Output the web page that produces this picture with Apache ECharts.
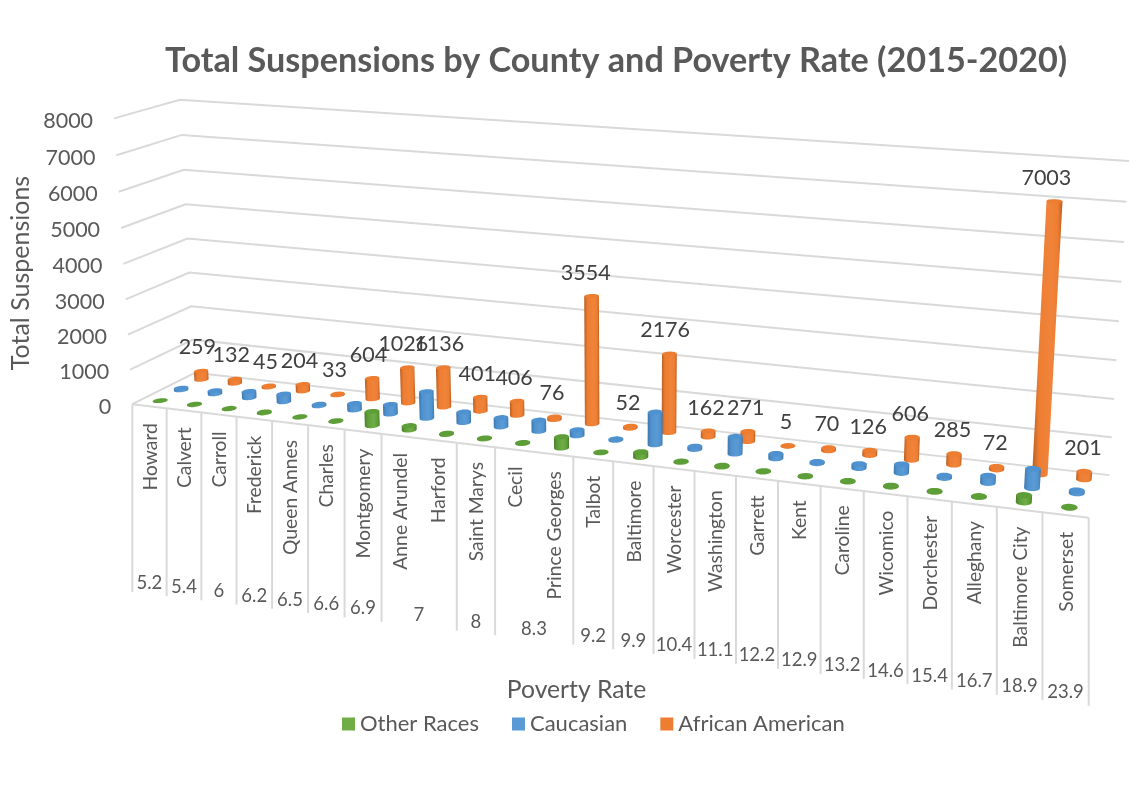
<!DOCTYPE html>
<html><head><meta charset="utf-8">
<style>html,body{margin:0;padding:0;background:#fff}#c{width:1146px;height:795px}</style>
<script src="https://cdn.jsdelivr.net/npm/echarts@6/dist/echarts.min.js"></script>
</head><body><div id="c"></div>
<script>
const counties = ['Howard','Calvert','Carroll','Frederick','Queen Annes','Charles','Montgomery','Anne Arundel','Harford','Saint Marys','Cecil','Prince Georges','Talbot','Baltimore','Worcester','Washington','Garrett','Kent','Caroline','Wicomico','Dorchester','Alleghany','Baltimore City','Somerset'];
const povertyRate = [5.2,5.4,6,6.2,6.5,6.6,6.9,7,7,8,8.3,8.3,9.2,9.9,10.4,11.1,12.2,12.9,13.2,14.6,15.4,16.7,18.9,23.9];
const otherRaces = [5,20,15,30,10,20,400,120,30,20,20,300,10,140,15,30,15,15,15,25,20,20,180,15];
const caucasian = [60,100,190,230,50,190,280,760,300,260,310,160,30,890,75,470,130,40,110,230,60,190,500,70];
const africanAmerican = [259,132,45,204,33,604,1026,1136,401,406,76,3554,52,2176,162,271,5,70,126,606,285,72,7003,201];
const valueTicks = [0,1000,2000,3000,4000,5000,6000,7000,8000];
const FONT = 'Lato';
const AXIS_MAX = 8000, GRID_COL = '#D9D9D9';

// Camera of the 3D view: (along categories, depth, height) -> screen, solved by least squares.
const cameraRefs = [
 [0,0,0,132.5,404],[1,0,0,1089,517],[0,1,0,195,373],[1,1,0,1109,476],
 [0,0,1,114,119],[0,1,1,180,99.5],[1,1,1,1129,161],
 [0,0,.5,123,264],[0,1,.5,187.5,238],[1,1,.5,1119,321]
];
function solveCamera(refs){
  const n=11, A=Array.from({length:n},()=>new Array(n+1).fill(0));
  const add=(r,b)=>{for(let i=0;i<n;i++){for(let j=0;j<n;j++)A[i][j]+=r[i]*r[j];A[i][n]+=r[i]*b;}};
  refs.forEach(([u,w,h,x,y])=>{
    add([u,w,h,1,0,0,0,0,-x*u,-x*w,-x*h],x);
    add([0,0,0,0,u,w,h,1,-y*u,-y*w,-y*h],y);
  });
  for(let c=0;c<n;c++){
    let p=c;for(let r=c+1;r<n;r++)if(Math.abs(A[r][c])>Math.abs(A[p][c]))p=r;
    [A[c],A[p]]=[A[p],A[c]];
    for(let r=0;r<n;r++){if(r===c)continue;const f=A[r][c]/A[c][c];for(let k=c;k<=n;k++)A[r][k]-=f*A[c][k];}
  }
  return A.map((row,i)=>row[n]/row[i]);
}
const P = solveCamera(cameraRefs);
function project(u,w,h){
  const d=P[8]*u+P[9]*w+P[10]*h+1;
  return [(P[0]*u+P[1]*w+P[2]*h+P[3])/d,(P[4]*u+P[5]*w+P[6]*h+P[7])/d];
}
// Read axis position back out of the cartesian scales.
function uh(params,api,cat,val){
  const c=api.coord([cat,val]), s=params.coordSys;
  return [(c[0]-s.x)/s.width,(s.y+s.height-c[1])/s.height];
}
const R_U=0.0072, R_W=0.07, STEPS=32;
function cylinder(color,dark,light,depth){
  return function(params,api){
    const [u,h]=uh(params,api,api.value(0),api.value(1));
    const base=[],top=[];
    for(let i=0;i<STEPS;i++){
      const t=i/STEPS*2*Math.PI,du=R_U*Math.cos(t),dw=R_W*Math.sin(t);
      base.push(project(u+du,depth+dw,0));
      top.push(project(u+du,depth+dw,h));
    }
    let l=0,r=0;
    base.forEach((p,i)=>{if(p[0]<base[l][0])l=i;if(p[0]>base[r][0])r=i;});
    let lt=0,rt=0;
    top.forEach((p,i)=>{if(p[0]<top[lt][0])lt=i;if(p[0]>top[rt][0])rt=i;});
    const arc=[];
    for(let i=r,c=0;c<STEPS;c++,i=(i+1)%STEPS){arc.push(base[i]);if(i===l)break;}
    const arc2=[];
    for(let i=r,c=0;c<STEPS;c++,i=(i-1+STEPS)%STEPS){arc2.push(base[i]);if(i===l)break;}
    const avg=a=>a.reduce((m,p)=>m+p[1],0)/a.length;
    const lower=avg(arc)>avg(arc2)?arc:arc2;
    const body=lower.concat([top[lt],top[rt]]);
    const fill={type:'linear',x:0,y:0,x2:1,y2:0,colorStops:[
      {offset:0,color:dark},{offset:.22,color:color},{offset:.6,color:light},{offset:.85,color:color},{offset:1,color:dark}]};
    return {type:'group',children:[
      {type:'polygon',shape:{points:body},style:{fill}},
      {type:'polygon',shape:{points:top},style:{fill:color}}
    ]};
  };
}
function line(pts,width){
  return {type:'polyline',shape:{points:pts},style:{stroke:GRID_COL,lineWidth:width||2,fill:null}};
}
const bandDrop=188, labelDrop=17, rateDrop=177;
const groups=[];
povertyRate.forEach((r,i)=>{
  const g=groups[groups.length-1];
  if(g&&g.rate===r)g.end=i+1;else groups.push({rate:r,start:i,end:i+1});
});
const catData=v=>v.map((x,i)=>[i,x]);
const option={
  animation:false,
  backgroundColor:'#fff',
  title:{text:'Total Suspensions by County and Poverty Rate (2015-2020)',left:160,top:39,
    textStyle:{fontFamily:FONT,fontSize:34.2,fontWeight:'bold',color:'#595959'}},
  legend:{data:['Other Races','Caucasian','African American'],top:708,left:337,itemWidth:13,itemHeight:13,itemGap:33,icon:'rect',
    textStyle:{fontFamily:FONT,fontSize:22,color:'#595959'}},
  grid:{left:60,width:1024,top:100,height:346},
  xAxis:{type:'category',data:counties,name:'Poverty Rate',nameLocation:'middle',nameGap:232,
    nameTextStyle:{fontFamily:FONT,fontSize:24.7,color:'#595959'},
    axisLine:{show:false},axisTick:{show:false},axisLabel:{show:false},splitLine:{show:false}},
  yAxis:{type:'value',min:0,max:AXIS_MAX,interval:1000,name:'Total Suspensions',nameLocation:'middle',nameGap:36,
    nameTextStyle:{fontFamily:FONT,fontSize:25,color:'#595959'},
    axisLine:{show:false},axisTick:{show:false},axisLabel:{show:false},splitLine:{show:false}},
  tooltip:{show:false},
  series:[
    {type:'custom',name:'gridlines',silent:true,z:1,data:valueTicks.map(v=>[0,v]),encode:{x:0,y:1},
     renderItem(params,api){
      const [,h]=uh(params,api,0,api.value(1));
      const a=project(0,0,h);
      return {type:'group',children:[
        line([a,project(0,1,h),project(1,1,h)]),
        {type:'text',x:a[0]-21,y:a[1]+2.5,style:{text:String(api.value(1)),align:'right',verticalAlign:'middle',
          fontFamily:FONT,fontSize:21.5,fill:'#595959'}}
      ]};
     }},
    {type:'custom',name:'categories',silent:true,z:1,data:catData(counties.map(()=>0)),encode:{x:0,y:1},
     renderItem(params,api){
      const i=api.value(0),[u]=uh(params,api,i,0);
      const e=project(u,0,0);
      const kids=[{type:'text',x:e[0]+1,y:e[1]+labelDrop,rotation:Math.PI/2,
        style:{text:counties[i],align:'right',verticalAlign:'middle',fontFamily:FONT,fontSize:19.3,fill:'#595959'}}];
      if(i===0)kids.push(line([project(0,0,0),project(1,0,0)]));
      return {type:'group',children:kids};
     }},
    {type:'custom',name:'rates',silent:true,z:1,data:groups.map(g=>[g.start,g.end]),encode:{x:0},
     renderItem(params,api){
      const g=groups[params.dataIndex];
      const [u0]=uh(params,api,g.start,0),[u1]=uh(params,api,g.end-1,0);
      const half=.5/counties.length;
      const a=project(u0-half,0,0),m=project((u0+u1)/2,0,0),b=project(u1+half,0,0);
      const kids=[
        line([a,[a[0],a[1]+bandDrop]]),
        {type:'text',x:m[0],y:m[1]+rateDrop,style:{text:String(g.rate),align:'center',verticalAlign:'middle',fontFamily:FONT,fontSize:18.5,fill:'#595959'}}
      ];
      if(g.end===counties.length)kids.push(line([b,[b[0],b[1]+bandDrop]]));
      return {type:'group',children:kids};
     }},
    {type:'custom',name:'African American',z:2,itemStyle:{color:'#ED7D31'},data:catData(africanAmerican),encode:{x:0,y:1},
     renderItem:cylinder('#ED7D31','#B85F24','#F0843A',5/6)},
    {type:'custom',name:'Caucasian',z:3,itemStyle:{color:'#5B9BD5'},data:catData(caucasian),encode:{x:0,y:1},
     renderItem:cylinder('#4F92CF','#3F76A8','#5B9BD5',1/2)},
    {type:'custom',name:'Other Races',z:4,itemStyle:{color:'#70AD47'},data:catData(otherRaces),encode:{x:0,y:1},
     renderItem:cylinder('#5E9E38','#4A7F2C','#70AD47',1/6)},
    {type:'custom',name:'values',silent:true,z:5,data:catData(africanAmerican),encode:{x:0,y:1},
     renderItem(params,api){
      const v=api.value(1),[u,h]=uh(params,api,api.value(0),v);
      const t=project(u,5/6,h);
      return {type:'text',x:t[0]-1-v/1000-2.5*(1-u),y:t[1]-23.5,style:{text:String(v),align:'center',verticalAlign:'middle',
        fontFamily:FONT,fontSize:21.5,fill:'#404040'}};
     }}
  ]
};
echarts.init(document.getElementById('c')).setOption(option);
</script></body></html>
